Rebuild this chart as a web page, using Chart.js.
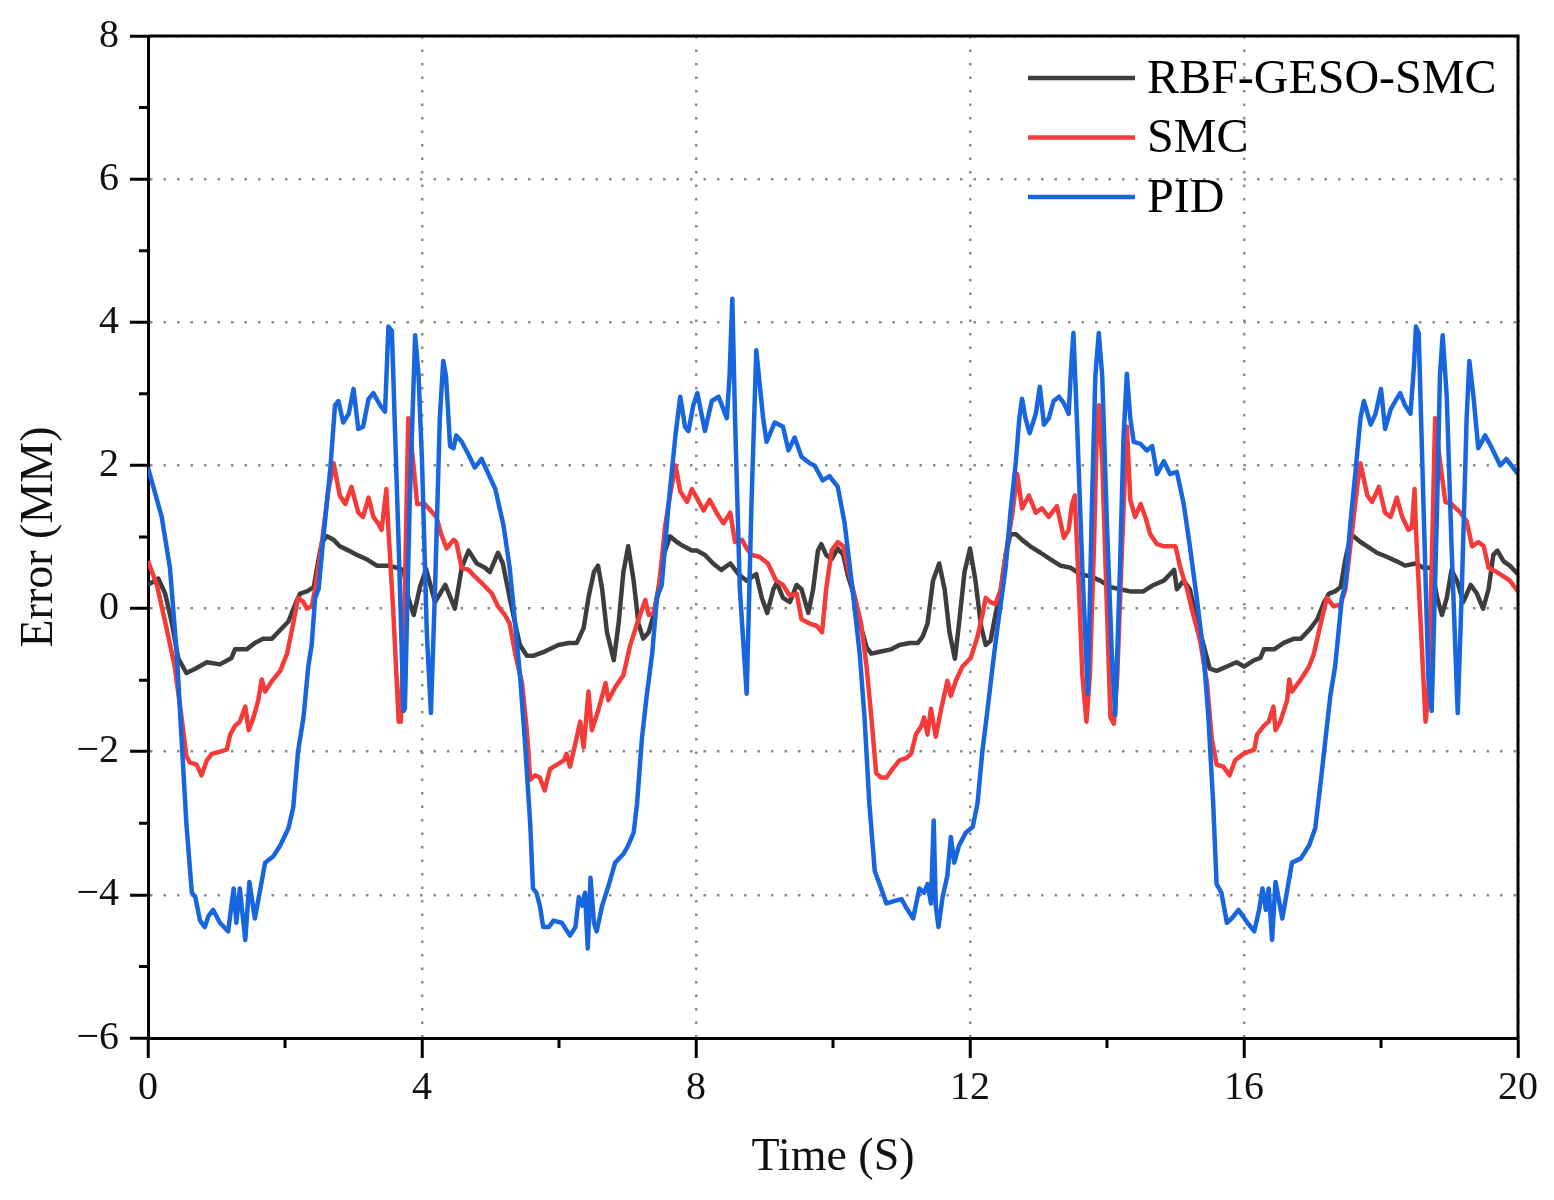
<!DOCTYPE html>
<html>
<head>
<meta charset="utf-8">
<title>Error vs time</title>
<script src="https://cdn.jsdelivr.net/npm/chart.js@4.4.1/dist/chart.umd.min.js"></script>
<style>
  html, body { margin: 0; padding: 0; background: #fff; }
  canvas { display: block; }
</style>
</head>
<body>
<canvas id="chart" width="1554" height="1200"></canvas>
<script>
// values
const gesoTime = [
  0, 0.15, 0.25, 0.35, 0.44, 0.56, 0.69, 0.86, 1.05, 1.22,
  1.27, 1.44, 1.56, 1.68, 1.81, 1.93, 2.05, 2.15, 2.22, 2.32,
  2.42, 2.49, 2.54, 2.61, 2.71, 2.8, 2.93, 3.05, 3.19, 3.34,
  3.51, 3.63, 3.73, 3.8, 3.88, 3.97, 4.06, 4.19, 4.34, 4.48,
  4.58, 4.68, 4.8, 4.92, 4.99, 5.11, 5.18, 5.28, 5.36, 5.43,
  5.53, 5.62, 5.79, 5.99, 6.14, 6.26, 6.36, 6.43, 6.51, 6.57,
  6.63, 6.7, 6.8, 6.87, 6.94, 7.01, 7.09, 7.16, 7.23, 7.31,
  7.38, 7.45, 7.53, 7.62, 7.72, 7.82, 7.94, 8.01, 8.13, 8.25,
  8.37, 8.5, 8.62, 8.74, 8.88, 8.96, 9.04, 9.13, 9.18, 9.27,
  9.37, 9.47, 9.54, 9.64, 9.71, 9.78, 9.83, 9.9, 9.98, 10.07,
  10.15, 10.22, 10.32, 10.41, 10.49, 10.56, 10.7, 10.85, 10.97, 11.12,
  11.24, 11.31, 11.38, 11.46, 11.55, 11.63, 11.7, 11.78, 11.84, 11.92,
  12.0, 12.08, 12.16, 12.23, 12.3, 12.37, 12.45, 12.52, 12.59, 12.67,
  12.76, 12.88, 13.03, 13.17, 13.32, 13.47, 13.61, 13.76, 13.9, 14.05,
  14.19, 14.34, 14.53, 14.68, 14.83, 14.95, 14.98, 15.02, 15.12, 15.21,
  15.31, 15.41, 15.5, 15.6, 15.75, 15.89, 16.0, 16.15, 16.24, 16.29,
  16.44, 16.58, 16.73, 16.83, 16.95, 17.07, 17.17, 17.24, 17.33, 17.41,
  17.48, 17.55, 17.6, 17.7, 17.8, 17.94, 18.09, 18.23, 18.35, 18.5,
  18.62, 18.74, 18.82, 18.89, 18.96, 19.03, 19.11, 19.2, 19.31, 19.4,
  19.49, 19.57, 19.64, 19.7, 19.79, 19.88, 20.0
];
const gesoError = [
  0.33, 0.42, 0.21, -0.21, -0.69, -0.9, -0.84, -0.75, -0.78, -0.69,
  -0.57, -0.57, -0.48, -0.42, -0.42, -0.3, -0.18, 0.06, 0.21, 0.24,
  0.3, 0.69, 0.93, 1.01, 0.96, 0.87, 0.81, 0.75, 0.69, 0.6,
  0.6, 0.57, 0.54, 0.15, -0.09, 0.3, 0.55, 0.09, 0.33, 0.0,
  0.57, 0.81, 0.63, 0.57, 0.51, 0.78, 0.63, 0.15, -0.21, -0.51,
  -0.66, -0.66, -0.6, -0.51, -0.48, -0.48, -0.27, 0.15, 0.51, 0.6,
  0.27, -0.33, -0.72, -0.21, 0.51, 0.87, 0.39, -0.21, -0.42, -0.33,
  -0.09, 0.27, 0.75, 1.01, 0.93, 0.87, 0.81, 0.81, 0.75, 0.63,
  0.54, 0.63, 0.48, 0.39, 0.48, 0.15, -0.06, 0.27, 0.36, 0.15,
  0.09, 0.33, 0.27, -0.06, 0.27, 0.81, 0.9, 0.75, 0.69, 0.84,
  0.75, 0.45, 0.15, -0.27, -0.54, -0.63, -0.6, -0.57, -0.51, -0.48,
  -0.48, -0.39, -0.21, 0.39, 0.63, 0.27, -0.33, -0.7, -0.21, 0.51,
  0.84, 0.39, -0.24, -0.51, -0.45, -0.09, 0.27, 0.75, 1.04, 1.04,
  0.96, 0.87, 0.78, 0.69, 0.6, 0.57, 0.48, 0.45, 0.39, 0.3,
  0.27, 0.24, 0.24, 0.33, 0.39, 0.51, 0.54, 0.27, 0.39, 0.27,
  -0.15, -0.51, -0.84, -0.87, -0.81, -0.75, -0.81, -0.72, -0.69, -0.57,
  -0.57, -0.48, -0.42, -0.42, -0.3, -0.15, 0.09, 0.21, 0.24, 0.3,
  0.69, 0.99, 1.01, 0.93, 0.87, 0.78, 0.72, 0.66, 0.6, 0.63,
  0.57, 0.57, 0.15, -0.09, 0.15, 0.54, 0.39, 0.09, 0.33, 0.21,
  0.0, 0.27, 0.75, 0.81, 0.66, 0.6, 0.48
];

const smcTime = [
  0, 0.13, 0.27, 0.39, 0.49, 0.56, 0.61, 0.71, 0.78, 0.86,
  0.93, 1.05, 1.15, 1.2, 1.27, 1.34, 1.42, 1.47, 1.54, 1.61,
  1.66, 1.71, 1.81, 1.93, 2.03, 2.12, 2.19, 2.27, 2.32, 2.39,
  2.44, 2.54, 2.63, 2.71, 2.8, 2.88, 2.97, 3.07, 3.14, 3.22,
  3.29, 3.36, 3.41, 3.48, 3.51, 3.58, 3.66, 3.69, 3.75, 3.8,
  3.87, 3.93, 4.04, 4.21, 4.28, 4.36, 4.46, 4.5, 4.58, 4.68,
  4.77, 4.9, 5.02, 5.11, 5.21, 5.28, 5.36, 5.46, 5.53, 5.58,
  5.65, 5.72, 5.79, 5.87, 5.97, 6.07, 6.11, 6.16, 6.24, 6.31,
  6.36, 6.43, 6.48, 6.58, 6.68, 6.72, 6.82, 6.94, 7.04, 7.14,
  7.26, 7.31, 7.38, 7.45, 7.55, 7.62, 7.7, 7.77, 7.87, 7.94,
  8.01, 8.11, 8.2, 8.3, 8.4, 8.5, 8.57, 8.67, 8.74, 8.81,
  8.93, 9.05, 9.17, 9.27, 9.37, 9.47, 9.54, 9.66, 9.76, 9.84,
  9.9, 9.98, 10.07, 10.15, 10.22, 10.32, 10.41, 10.49, 10.56, 10.63,
  10.7, 10.78, 10.87, 10.97, 11.07, 11.14, 11.21, 11.29, 11.33, 11.38,
  11.43, 11.5, 11.58, 11.67, 11.72, 11.8, 11.89, 12.01, 12.11, 12.18,
  12.23, 12.3, 12.37, 12.45, 12.52, 12.62, 12.69, 12.76, 12.86, 12.96,
  13.05, 13.15, 13.27, 13.37, 13.44, 13.49, 13.53, 13.59, 13.64, 13.7,
  13.75, 13.81, 13.85, 13.88, 13.93, 14.0, 14.05, 14.1, 14.15, 14.22,
  14.29, 14.34, 14.41, 14.49, 14.56, 14.63, 14.73, 14.83, 14.92, 15.0,
  15.07, 15.17, 15.26, 15.36, 15.46, 15.53, 15.6, 15.7, 15.79, 15.87,
  15.99, 16.07, 16.15, 16.19, 16.29, 16.36, 16.43, 16.46, 16.53, 16.63,
  16.66, 16.7, 16.83, 16.95, 17.02, 17.12, 17.21, 17.31, 17.41, 17.48,
  17.58, 17.66, 17.7, 17.8, 17.87, 17.97, 18.06, 18.14, 18.23, 18.31,
  18.4, 18.45, 18.49, 18.51, 18.57, 18.65, 18.69, 18.74, 18.79, 18.86,
  18.94, 19.03, 19.16, 19.25, 19.33, 19.42, 19.5, 19.57, 19.69, 19.79,
  19.88, 20.0
];
const smcError = [
  0.66, 0.33, -0.27, -0.81, -1.52, -2.06, -2.15, -2.18, -2.33, -2.12,
  -2.03, -2.0, -1.97, -1.76, -1.64, -1.58, -1.37, -1.7, -1.52, -1.28,
  -0.99, -1.16, -1.01, -0.87, -0.63, -0.21, 0.15, 0.09, 0.0, 0.03,
  0.27, 0.93, 1.64, 2.03, 1.58, 1.46, 1.7, 1.34, 1.28, 1.55,
  1.28, 1.19, 1.1, 1.67, 1.1, -0.03, -1.58, -1.58, 0.27, 2.66,
  2.06, 1.46, 1.46, 1.28, 1.04, 0.84, 0.96, 0.93, 0.57, 0.54,
  0.45, 0.33, 0.21, 0.03, -0.09, -0.21, -0.63, -1.04, -1.7, -2.39,
  -2.33, -2.36, -2.54, -2.24, -2.18, -2.12, -2.03, -2.21, -1.88, -1.58,
  -1.94, -1.16, -1.7, -1.4, -1.04, -1.28, -1.1, -0.93, -0.51, -0.21,
  0.12, -0.09, -0.06, 0.21, 1.16, 1.58, 2.0, 1.64, 1.49, 1.67,
  1.55, 1.37, 1.52, 1.34, 1.19, 1.34, 0.93, 0.96, 0.84, 0.75,
  0.72, 0.63, 0.39, 0.33, 0.18, 0.21, -0.15, -0.21, -0.24, -0.33,
  0.27, 0.81, 0.93, 0.87, 0.57, 0.15, -0.21, -0.81, -1.52, -2.3,
  -2.36, -2.36, -2.24, -2.12, -2.09, -2.03, -1.76, -1.64, -1.52, -1.76,
  -1.4, -1.79, -1.4, -1.01, -1.22, -0.99, -0.81, -0.69, -0.39, -0.09,
  0.15, 0.09, 0.06, 0.27, 0.75, 1.34, 1.88, 1.4, 1.58, 1.34,
  1.4, 1.28, 1.43, 0.99, 1.1, 1.46, 1.58, 0.27, -0.93, -1.58,
  -0.93, 0.87, 2.42, 2.84, 2.06, -0.03, -1.52, -1.61, -0.93, 0.87,
  2.54, 1.52, 1.28, 1.46, 1.28, 1.04, 0.9, 0.87, 0.87, 0.87,
  0.57, 0.27, -0.09, -0.45, -1.04, -1.82, -2.18, -2.21, -2.33, -2.12,
  -2.03, -2.0, -1.97, -1.76, -1.64, -1.58, -1.37, -1.7, -1.58, -1.28,
  -0.99, -1.16, -0.99, -0.81, -0.63, -0.21, 0.15, 0.03, 0.06, 0.27,
  1.1, 1.76, 2.03, 1.58, 1.49, 1.7, 1.34, 1.28, 1.55, 1.28,
  1.1, 1.13, 1.67, 1.1, -0.03, -1.58, -1.22, 0.57, 2.66, 2.06,
  1.49, 1.46, 1.34, 1.22, 0.87, 0.93, 0.87, 0.57, 0.51, 0.45,
  0.39, 0.24
];

const pidTime = [
  0, 0.2, 0.32, 0.42, 0.49, 0.56, 0.64, 0.69, 0.76, 0.83,
  0.88, 0.95, 1.05, 1.17, 1.25, 1.29, 1.34, 1.42, 1.48, 1.56,
  1.71, 1.83, 1.93, 2.05, 2.12, 2.19, 2.27, 2.34, 2.39, 2.44,
  2.49, 2.56, 2.66, 2.73, 2.78, 2.85, 2.93, 3.0, 3.07, 3.14,
  3.22, 3.29, 3.39, 3.46, 3.51, 3.56, 3.66, 3.73, 3.75, 3.82,
  3.9, 3.95, 4.0, 4.07, 4.13, 4.19, 4.26, 4.31, 4.35, 4.41,
  4.46, 4.5, 4.58, 4.68, 4.77, 4.87, 4.97, 5.07, 5.19, 5.28,
  5.36, 5.43, 5.5, 5.58, 5.62, 5.67, 5.72, 5.77, 5.85, 5.92,
  6.04, 6.16, 6.24, 6.29, 6.34, 6.38, 6.42, 6.46, 6.51, 6.55,
  6.63, 6.72, 6.82, 6.94, 7.01, 7.09, 7.14, 7.21, 7.28, 7.36,
  7.43, 7.5, 7.6, 7.7, 7.77, 7.84, 7.89, 7.96, 8.02, 8.13,
  8.23, 8.33, 8.45, 8.49, 8.53, 8.57, 8.64, 8.74, 8.81, 8.88,
  8.93, 8.98, 9.03, 9.15, 9.27, 9.35, 9.44, 9.54, 9.66, 9.73,
  9.85, 9.95, 10.07, 10.17, 10.24, 10.32, 10.39, 10.46, 10.53, 10.61,
  10.68, 10.78, 10.88, 11.0, 11.07, 11.17, 11.26, 11.33, 11.38, 11.43,
  11.47, 11.5, 11.54, 11.6, 11.67, 11.72, 11.77, 11.84, 11.94, 12.04,
  12.11, 12.18, 12.25, 12.33, 12.4, 12.47, 12.52, 12.59, 12.67, 12.72,
  12.76, 12.81, 12.87, 12.96, 13.02, 13.08, 13.15, 13.22, 13.3, 13.37,
  13.44, 13.48, 13.51, 13.56, 13.64, 13.72, 13.78, 13.83, 13.88, 13.93,
  14.0, 14.07, 14.12, 14.19, 14.24, 14.29, 14.34, 14.39, 14.49, 14.58,
  14.66, 14.73, 14.83, 14.92, 15.02, 15.12, 15.21, 15.31, 15.41, 15.48,
  15.55, 15.6, 15.67, 15.75, 15.82, 15.92, 16.05, 16.15, 16.22, 16.27,
  16.32, 16.36, 16.41, 16.46, 16.56, 16.7, 16.83, 16.95, 17.04, 17.12,
  17.19, 17.26, 17.33, 17.38, 17.43, 17.48, 17.55, 17.63, 17.7, 17.75,
  17.85, 17.92, 18.0, 18.06, 18.14, 18.21, 18.28, 18.35, 18.43, 18.48,
  18.51, 18.55, 18.62, 18.69, 18.74, 18.82, 18.86, 18.9, 18.96, 19.03,
  19.12, 19.18, 19.25, 19.29, 19.35, 19.42, 19.52, 19.62, 19.74, 19.83,
  20.0
];
const pidError = [
  1.97, 1.28, 0.57, -0.63, -1.82, -3.0, -3.97, -4.03, -4.36, -4.45,
  -4.3, -4.21, -4.39, -4.51, -3.91, -4.39, -3.91, -4.63, -3.82, -4.33,
  -3.55, -3.46, -3.31, -3.07, -2.78, -2.0, -1.52, -0.81, -0.5, 0.15,
  0.27, 0.99, 1.94, 2.84, 2.9, 2.6, 2.72, 3.07, 2.51, 2.54,
  2.93, 3.01, 2.84, 2.75, 3.94, 3.88, 0.87, -1.43, -1.4, 1.46,
  3.82, 3.25, 2.06, -0.33, -1.46, 0.27, 2.66, 3.46, 3.25, 2.27,
  2.24, 2.42, 2.33, 2.15, 1.97, 2.09, 1.88, 1.67, 1.16, 0.57,
  -0.21, -0.93, -1.82, -3.01, -3.91, -3.97, -4.15, -4.45, -4.45, -4.36,
  -4.39, -4.57, -4.45, -4.03, -4.15, -3.97, -4.75, -3.76, -4.39, -4.51,
  -4.15, -3.88, -3.55, -3.43, -3.31, -3.13, -2.72, -1.82, -1.22, -0.63,
  0.15, 0.33, 1.46, 2.42, 2.96, 2.54, 2.48, 2.84, 3.01, 2.48,
  2.9, 2.96, 2.66, 3.25, 4.33, 2.66, 0.27, -1.19, 1.46, 3.61,
  3.13, 2.66, 2.33, 2.6, 2.54, 2.21, 2.39, 2.12, 2.03, 2.0,
  1.79, 1.85, 1.7, 1.19, 0.63, -0.03, -0.63, -1.52, -2.72, -3.67,
  -3.85, -4.12, -4.09, -4.06, -4.18, -4.33, -3.91, -3.97, -3.85, -4.12,
  -2.96, -4.15, -4.45, -4.03, -3.73, -3.19, -3.55, -3.31, -3.13, -3.05,
  -2.72, -2.0, -1.46, -0.81, -0.27, 0.21, 0.57, 1.34, 2.06, 2.66,
  2.93, 2.66, 2.45, 2.72, 3.1, 2.57, 2.66, 2.9, 2.96, 2.87,
  2.72, 3.43, 3.85, 2.66, 0.57, -1.19, 1.46, 3.25, 3.85, 3.25,
  1.16, -0.63, -1.49, 0.57, 2.36, 3.28, 2.66, 2.33, 2.3, 2.21,
  2.27, 1.88, 2.06, 1.88, 1.91, 1.46, 0.87, 0.15, -0.63, -1.52,
  -2.72, -3.85, -3.97, -4.39, -4.33, -4.21, -4.39, -4.51, -4.21, -3.91,
  -4.21, -3.91, -4.63, -3.82, -4.33, -3.55, -3.49, -3.31, -3.07, -2.42,
  -1.82, -1.22, -0.81, -0.33, 0.15, 0.33, 1.16, 1.94, 2.66, 2.9,
  2.57, 2.72, 3.07, 2.51, 2.78, 2.9, 3.01, 2.84, 2.72, 3.37,
  3.94, 3.85, 1.46, -0.93, -1.43, 1.46, 3.25, 3.82, 2.96, 0.87,
  -1.46, 0.27, 2.66, 3.46, 2.96, 2.24, 2.42, 2.24, 2.0, 2.09,
  1.88
];

const xTicks = [0, 4, 8, 12, 16, 20];
const xMinorTicks = [2, 6, 10, 14, 18];
const yTicks = [-6, -4, -2, 0, 2, 4, 6, 8];
const yMinorTicks = [-5, -3, -1, 1, 3, 5, 7];

const serif = "'Liberation Serif', 'Times New Roman', serif";

const toPoints = (times, values) => times.map((t, i) => ({x: t, y: values[i]}));
const minusSign = (v) => (v < 0 ? "\u2212" + Math.abs(v) : String(v));

// top/right frame, minor tick marks and the legend
const frameAndLegend = {
  id: "frameAndLegend",
  afterDraw(chart) {
    const {ctx, chartArea: area, scales} = chart;
    ctx.save();
    ctx.strokeStyle = "#000";
    ctx.lineWidth = 3;
    ctx.beginPath();
    ctx.moveTo(area.left, area.top);
    ctx.lineTo(area.right, area.top);
    ctx.lineTo(area.right, area.bottom);
    ctx.stroke();

    ctx.beginPath();
    xMinorTicks.forEach((v) => {
      const px = scales.x.getPixelForValue(v);
      ctx.moveTo(px, area.bottom);
      ctx.lineTo(px, area.bottom + 10);
    });
    yMinorTicks.forEach((v) => {
      const py = scales.y.getPixelForValue(v);
      ctx.moveTo(area.left, py);
      ctx.lineTo(area.left - 9, py);
    });
    ctx.stroke();

    ctx.font = "48px " + serif;
    ctx.textBaseline = "middle";
    ctx.textAlign = "left";
    chart.data.datasets.forEach((ds, i) => {
      const y = 78 + i * 59.5;
      ctx.strokeStyle = ds.borderColor;
      ctx.lineWidth = 4.5;
      ctx.beginPath();
      ctx.moveTo(1028, y);
      ctx.lineTo(1135, y);
      ctx.stroke();
      ctx.fillStyle = "#000";
      ctx.fillText(ds.label, 1147, y + 2);
    });
    ctx.restore();
  }
};

const lineStyle = {
  borderWidth: 4.5,
  pointRadius: 0,
  tension: 0,
  fill: false,
  borderJoinStyle: "round"
};

new Chart(document.getElementById("chart"), {
  type: "line",
  data: {
    datasets: [
      Object.assign({label: "RBF-GESO-SMC", data: toPoints(gesoTime, gesoError), borderColor: "#3d3d3d", order: 2}, lineStyle),
      Object.assign({label: "SMC", data: toPoints(smcTime, smcError), borderColor: "#f53a3a", order: 1}, lineStyle),
      Object.assign({label: "PID", data: toPoints(pidTime, pidError), borderColor: "#1766e0", order: 0}, lineStyle)
    ]
  },
  options: {
    responsive: false,
    devicePixelRatio: 1,
    animation: false,
    layout: {padding: {top: 36, right: 36, left: 0, bottom: 0}},
    plugins: {
      legend: {display: false},
      tooltip: {enabled: false}
    },
    scales: {
      x: {
        type: "linear",
        min: 0,
        max: 20,
        afterBuildTicks: (scale) => { scale.ticks = xTicks.map((v) => ({value: v})); },
        afterFit: (scale) => { scale.height = 162; },
        ticks: {
          font: {family: serif, size: 40},
          color: "#111",
          padding: 6,
          maxRotation: 0,
          callback: (v) => minusSign(v)
        },
        grid: {
          color: "#8a8a8a",
          lineWidth: 2.5,
          tickLength: 20,
          tickColor: "#000",
          tickWidth: 3,
          tickBorderDash: []
        },
        border: {display: true, color: "#000", width: 3, dash: [2.5, 11]},
        title: {
          display: true,
          text: "Time (S)",
          font: {family: serif, size: 46},
          color: "#111",
          padding: {top: 0, bottom: 14}
        }
      },
      y: {
        type: "linear",
        min: -6,
        max: 8,
        afterBuildTicks: (scale) => { scale.ticks = yTicks.map((v) => ({value: v})); },
        afterFit: (scale) => { scale.width = 148; },
        ticks: {
          font: {family: serif, size: 40},
          color: "#111",
          padding: 11,
          callback: (v) => minusSign(v)
        },
        grid: {
          color: "#8a8a8a",
          lineWidth: 2.5,
          tickLength: 18,
          tickColor: "#000",
          tickWidth: 3,
          tickBorderDash: []
        },
        border: {display: true, color: "#000", width: 3, dash: [2.5, 11]},
        title: {
          display: true,
          text: "Error (MM)",
          font: {family: serif, size: 46},
          color: "#111",
          padding: {top: 12, bottom: 0}
        }
      }
    }
  },
  plugins: [frameAndLegend]
});
</script>
</body>
</html>
